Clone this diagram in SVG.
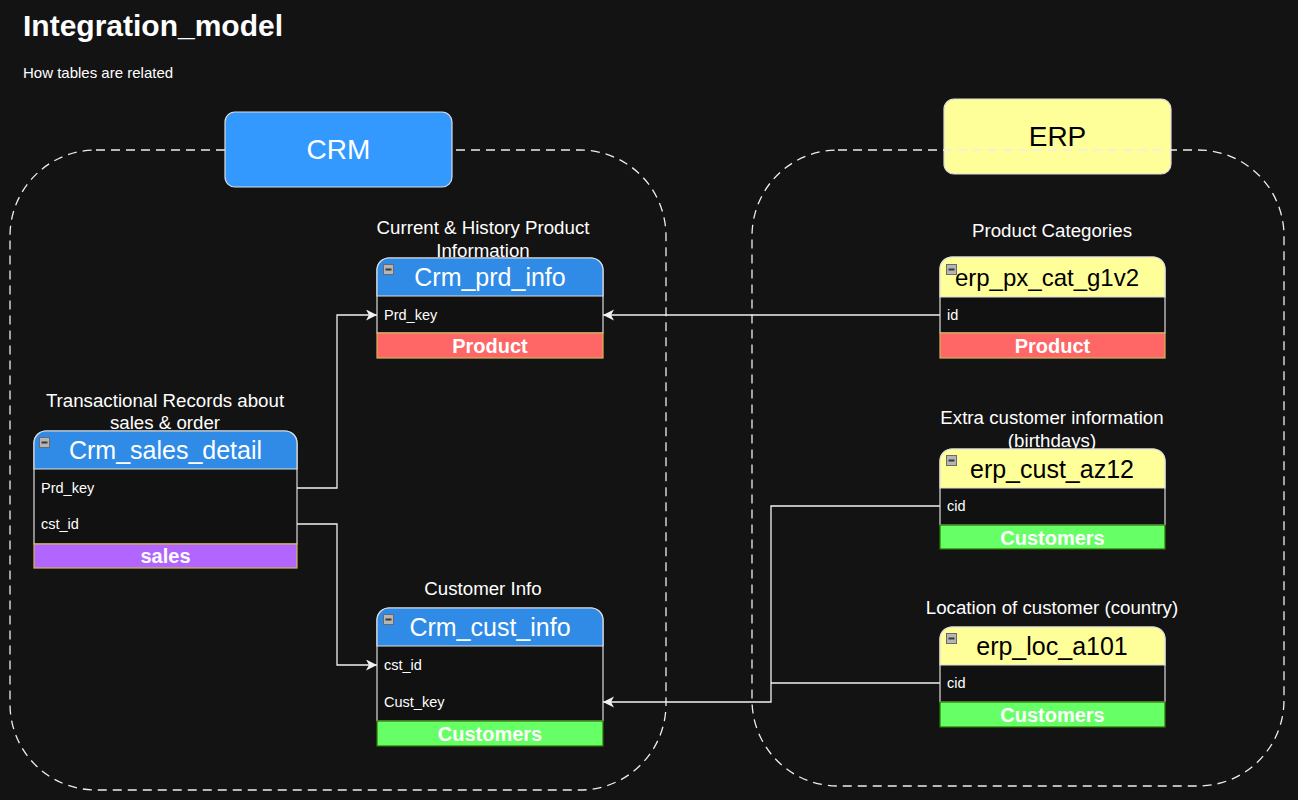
<svg xmlns="http://www.w3.org/2000/svg" width="1298" height="800" viewBox="0 0 1298 800">
<defs>
<style>
.t{font-family:"Liberation Sans",Arial,sans-serif;}
.title{font-size:30px;font-weight:bold;fill:#ffffff;}
.sub{font-size:15px;fill:#ffffff;}
.lbl{font-size:18.7px;fill:#ffffff;text-anchor:middle;}
.grp{font-size:28px;text-anchor:middle;}
.hdr{font-size:25px;text-anchor:middle;}
.fld{font-size:14.5px;fill:#ffffff;}
.ftr{font-size:20px;font-weight:bold;fill:#ffffff;text-anchor:middle;}
.cont{fill:none;stroke:#eeeeee;stroke-width:1.3;stroke-dasharray:9 6;}
.body{fill:#111111;stroke:#dddddd;stroke-width:1.2;}
.hcrm{fill:#2F8BE6;stroke:#dddddd;stroke-width:1.2;}
.herp{fill:#FFFF99;stroke:#dddddd;stroke-width:1.2;}
.fred{fill:#FF6666;stroke:#D6B656;stroke-width:1.2;}
.fgrn{fill:#66FF66;stroke:#2D7600;stroke-width:1.2;}
.fpur{fill:#B266FF;stroke:#D6B656;stroke-width:1.2;}
.ico{fill:#b5b5b5;stroke:#6a6a6a;stroke-width:1;}
.icod{fill:#3a3a3a;}
.conn{fill:none;stroke:#f2f2f2;stroke-width:1.3;}
</style>
<marker id="arr" markerUnits="userSpaceOnUse" markerWidth="12" markerHeight="12" refX="11" refY="5.5" orient="auto">
<path d="M0,0 L11,5.5 L0,11 L3,5.5 Z" fill="#f2f2f2"/>
</marker>
<symbol id="icon" overflow="visible">
<rect class="ico" x="0.5" y="0.5" width="10" height="10"/>
<rect class="icod" x="2.5" y="4.5" width="6" height="2"/>
</symbol>
</defs>
<rect width="1298" height="800" fill="#131313"/>

<g id="header">
<text class="t title" x="23" y="36">Integration_model</text>
<text class="t sub" x="23" y="78">How tables are related</text>
</g>

<g id="crm-container">
<rect class="cont" x="10" y="150" width="656" height="640" rx="86" ry="86"/>
</g>
<g id="crm-label">
<rect x="225" y="112" width="227" height="75" rx="10" ry="10" fill="#3399FF" stroke="#dddddd" stroke-width="1.2"/>
<text class="t grp" x="338.5" y="159" fill="#ffffff">CRM</text>
</g>

<g id="erp-label">
<rect x="944" y="99" width="227" height="75" rx="10" ry="10" fill="#FFFF99" stroke="#dddddd" stroke-width="1.2"/>
<text class="t grp" x="1057.5" y="146" fill="#000000">ERP</text>
</g>
<g id="erp-container">
<rect class="cont" x="752" y="150" width="532" height="636" rx="86" ry="86"/>
</g>

<g id="connectors">
<path class="conn" d="M297,488 H337 V315 H377" marker-end="url(#arr)"/>
<path class="conn" d="M297,524 H337 V665 H377" marker-end="url(#arr)"/>
<path class="conn" d="M940,315 H603" marker-end="url(#arr)"/>
<path class="conn" d="M940,506 H771 V702 H603" marker-end="url(#arr)"/>
<path class="conn" d="M940,683 H771"/>
</g>

<g id="crm_sales_detail">
<text class="t lbl" x="165" y="407">Transactional Records about</text>
<text class="t lbl" x="165" y="429">sales &amp; order</text>
<path class="body" d="M34,544 V443 A12,12 0 0 1 46,431 H285 A12,12 0 0 1 297,443 V544 Z"/>
<path class="hcrm" d="M34,469 V443 A12,12 0 0 1 46,431 H285 A12,12 0 0 1 297,443 V469 Z"/>
<use href="#icon" x="39" y="437"/>
<text class="t hdr" x="165.5" y="459" fill="#ffffff">Crm_sales_detail</text>
<text class="t fld" x="41" y="493">Prd_key</text>
<text class="t fld" x="41" y="529">cst_id</text>
<rect class="fpur" x="34" y="544" width="263" height="24"/>
<text class="t ftr" x="165.5" y="563">sales</text>
</g>

<g id="crm_prd_info">
<text class="t lbl" x="483" y="234">Current &amp; History Product</text>
<text class="t lbl" x="483" y="257">Information</text>
<path class="body" d="M377,333 V270 A12,12 0 0 1 389,258 H591 A12,12 0 0 1 603,270 V333 Z"/>
<path class="hcrm" d="M377,296 V270 A12,12 0 0 1 389,258 H591 A12,12 0 0 1 603,270 V296 Z"/>
<use href="#icon" x="383" y="264"/>
<text class="t hdr" x="490" y="286" fill="#ffffff">Crm_prd_info</text>
<text class="t fld" x="384" y="320">Prd_key</text>
<rect class="fred" x="377" y="333" width="226" height="25"/>
<text class="t ftr" x="490" y="353">Product</text>
</g>

<g id="crm_cust_info">
<text class="t lbl" x="483" y="595">Customer Info</text>
<path class="body" d="M377,721 V620 A12,12 0 0 1 389,608 H591 A12,12 0 0 1 603,620 V721 Z"/>
<path class="hcrm" d="M377,646 V620 A12,12 0 0 1 389,608 H591 A12,12 0 0 1 603,620 V646 Z"/>
<use href="#icon" x="383" y="614"/>
<text class="t hdr" x="490" y="636" fill="#ffffff">Crm_cust_info</text>
<text class="t fld" x="384" y="670">cst_id</text>
<text class="t fld" x="384" y="707">Cust_key</text>
<rect class="fgrn" x="377" y="721" width="226" height="25"/>
<text class="t ftr" x="490" y="741">Customers</text>
</g>

<g id="erp_px_cat_g1v2">
<text class="t lbl" x="1052" y="237">Product Categories</text>
<path class="body" d="M940,333 V269 A12,12 0 0 1 952,257 H1153 A12,12 0 0 1 1165,269 V333 Z"/>
<path class="herp" d="M940,297 V269 A12,12 0 0 1 952,257 H1153 A12,12 0 0 1 1165,269 V297 Z"/>
<use href="#icon" x="946" y="264"/>
<text class="t hdr" x="1047" y="286" fill="#000000" style="font-size:24px">erp_px_cat_g1v2</text>
<text class="t fld" x="947" y="320">id</text>
<rect class="fred" x="940" y="333" width="225" height="25"/>
<text class="t ftr" x="1052.5" y="353">Product</text>
</g>

<g id="erp_cust_az12">
<text class="t lbl" x="1052" y="424">Extra customer information</text>
<text class="t lbl" x="1052" y="447">(birthdays)</text>
<path class="body" d="M940,525 V461 A12,12 0 0 1 952,449 H1153 A12,12 0 0 1 1165,461 V525 Z"/>
<path class="herp" d="M940,488 V461 A12,12 0 0 1 952,449 H1153 A12,12 0 0 1 1165,461 V488 Z"/>
<use href="#icon" x="946" y="455"/>
<text class="t hdr" x="1052" y="477.5" fill="#000000">erp_cust_az12</text>
<text class="t fld" x="947" y="511">cid</text>
<rect class="fgrn" x="940" y="525" width="225" height="24"/>
<text class="t ftr" x="1052.5" y="544.5">Customers</text>
</g>

<g id="erp_loc_a101">
<text class="t lbl" x="1052" y="614">Location of customer (country)</text>
<path class="body" d="M940,702 V639 A12,12 0 0 1 952,627 H1153 A12,12 0 0 1 1165,639 V702 Z"/>
<path class="herp" d="M940,665 V639 A12,12 0 0 1 952,627 H1153 A12,12 0 0 1 1165,639 V665 Z"/>
<use href="#icon" x="946" y="633"/>
<text class="t hdr" x="1052" y="655" fill="#000000">erp_loc_a101</text>
<text class="t fld" x="947" y="688">cid</text>
<rect class="fgrn" x="940" y="702" width="225" height="25"/>
<text class="t ftr" x="1052.5" y="722">Customers</text>
</g>
</svg>
